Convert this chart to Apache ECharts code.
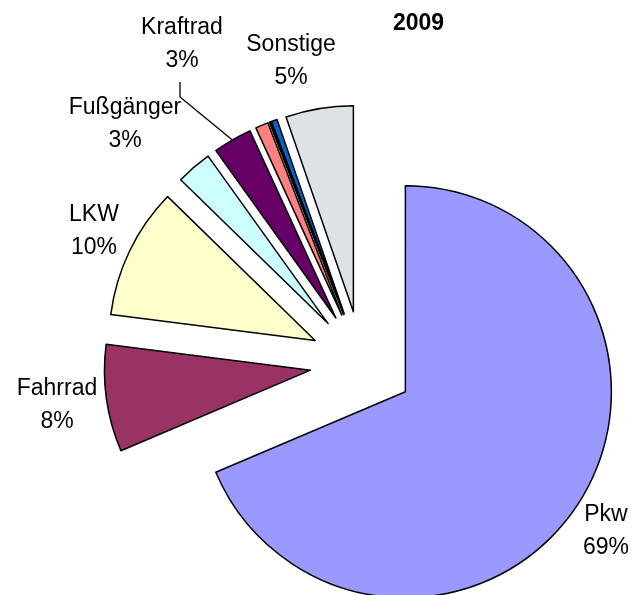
<!DOCTYPE html>
<html>
<head>
<meta charset="utf-8">
<script src="https://cdn.jsdelivr.net/npm/echarts@6/dist/echarts.min.js"></script>
<style>
html,body{margin:0;padding:0;background:#fff;}
#chart{width:635px;height:595px;}
</style>
</head>
<body>
<div id="chart"></div>
<script>
// Data (share in %)
const CATEGORIES = ['Pkw', 'Fahrrad', 'LKW', 'Fußgänger', 'Kraftrad', 'Sonst. 1', 'Sonst. 2', 'Sonst. 3', 'Sonstige'];
const VALUES     = [68.6, 8.4, 10.3, 2.8, 3.05, 1.0, 0.1, 0.45, 5.3];
const COLORS     = ['#9999FF', '#993366', '#FFFFCC', '#CCFFFF', '#660066', '#FF8080', '#000080', '#0066CC', '#DDE2E5'];
const SHOW_LABEL = [true, true, true, true, true, false, false, false, true];
const TITLE = '2009';

// layout
const CENTER = [362, 363];
const RADIUS = 206;
const EXPLODE = 52;
const LABEL_POS = [[606, 531], [57, 405], [94, 231], [125, 124], [182, 44], null, null, null, [291, 61]];
const LEADER_IDX = 4;
const LEADER_ELBOW = [[180, 97], [180, 82]];

const chart = echarts.init(document.getElementById('chart'), null, {renderer: 'canvas'});
const FONT = "'Liberation Sans', Arial, sans-serif";

const sliceData = CATEGORIES.map((c, i) => ({
  name: c,
  value: VALUES[i],
  selected: true,
  itemStyle: {color: COLORS[i]}
}));

const labelData = CATEGORIES.map((c, i) => ({
  name: c,
  value: VALUES[i],
  label: {show: SHOW_LABEL[i]},
  labelLine: {show: i === LEADER_IDX}
}));

chart.setOption({
  animation: false,
  title: {
    text: TITLE,
    left: 393, top: 12, padding: 0,
    textStyle: {fontFamily: FONT, fontSize: 23, fontWeight: 'bold', color: '#000', lineHeight: 23}
  },
  series: [{
    type: 'pie',
    center: CENTER,
    radius: RADIUS,
    startAngle: 90,
    clockwise: true,
    selectedMode: 'multiple',
    selectedOffset: EXPLODE,
    emphasis: {disabled: true, scale: false},
    itemStyle: {borderColor: '#000', borderWidth: 1.5},
    label: {show: false},
    labelLine: {show: false},
    data: sliceData
  }, {
    type: 'pie',
    silent: true,
    center: CENTER,
    radius: RADIUS,
    startAngle: 90,
    clockwise: true,
    selectedMode: false,
    avoidLabelOverlap: false,
    emphasis: {disabled: true, scale: false},
    itemStyle: {color: 'rgba(0,0,0,0)', borderWidth: 0},
    label: {
      position: 'outside',
      formatter: p => p.name + '\n' + Math.round(p.percent) + '%',
      fontFamily: FONT, fontSize: 23, lineHeight: 33, color: '#000', align: 'center'
    },
    labelLine: {lineStyle: {color: '#000', width: 1.3}, length: 20, length2: 10},
    labelLayout: function (params) {
      const i = params.dataIndex;
      const p = LABEL_POS[i];
      if (!p) return {};
      const r = {x: p[0], y: p[1], align: 'center', verticalAlign: 'middle'};
      if (i === LEADER_IDX && params.labelLinePoints) {
        // start point on the exploded arc at the slice's mid angle
        const p0 = params.labelLinePoints[0];
        const k = (RADIUS + EXPLODE) / RADIUS;
        const s = [CENTER[0] + (p0[0] - CENTER[0]) * k, CENTER[1] + (p0[1] - CENTER[1]) * k];
        r.labelLinePoints = [s, LEADER_ELBOW[0], LEADER_ELBOW[1]];
      }
      return r;
    },
    data: labelData
  }]
});
</script>
</body>
</html>
